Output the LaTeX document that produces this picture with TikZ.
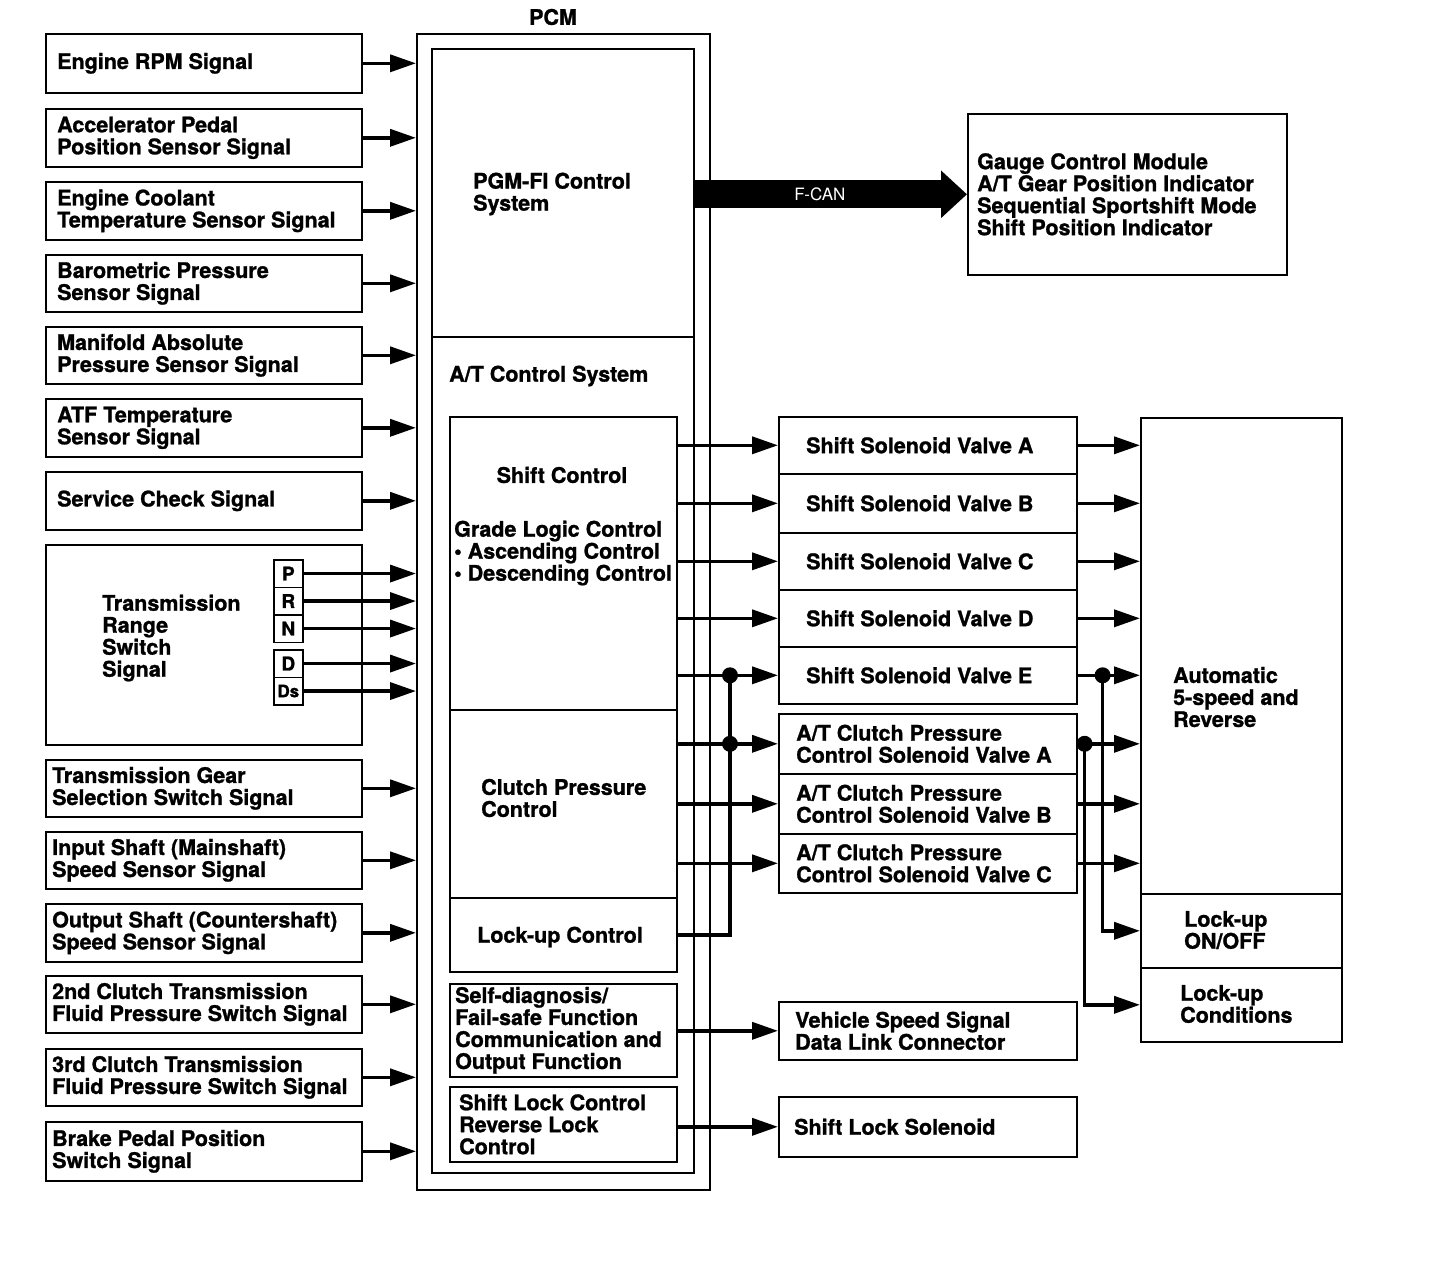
\documentclass[tikz,border=0pt]{standalone}
\usepackage{fontspec}
\setmainfont{TeX Gyre Heros}[BoldFeatures={FakeBold=1.2}]
\usetikzlibrary{arrows.meta}
\begin{document}
\begin{tikzpicture}[x=1pt,y=-1pt,
  font=\fontsize{21.5}{22}\selectfont\bfseries,
  bx/.style={draw, line width=1.6pt, anchor=north west, inner sep=0pt},
  lbx/.style={bx, minimum width=316pt},
  sbx/.style={bx, minimum width=298pt},
  txt/.style={anchor=west, align=left, inner sep=0pt},
  pbox/.style={draw, line width=1.6pt, anchor=north west, minimum width=29pt, minimum height=27.5pt, inner sep=0pt, font=\fontsize{19}{19}\selectfont\bfseries},
  sig/.style={line width=3.6pt, -{Triangle[length=26pt,width=17pt]}},
  wire/.style={line width=3.6pt}]
\useasboundingbox (0,0) rectangle (1456,1262);

% ---------- left input boxes ----------
\node[lbx, minimum height=59pt] (rpm) at (45,33) {};
\node[txt] (rpmt) at ([xshift=12pt]rpm.west) {Engine RPM Signal};
\node[lbx, minimum height=58pt] (app) at (45,108) {};
\node[txt] (appt) at ([xshift=12pt]app.west) {Accelerator Pedal\\Position Sensor Signal};
\node[lbx, minimum height=58pt] (ect) at (45,181) {};
\node[txt] (ectt) at ([xshift=12pt]ect.west) {Engine Coolant\\Temperature Sensor Signal};
\node[lbx, minimum height=57pt] (baro) at (45,254) {};
\node[txt] (barot) at ([xshift=12pt]baro.west) {Barometric Pressure\\Sensor Signal};
\node[lbx, minimum height=57pt] (map) at (45,326) {};
\node[txt] (mapt) at ([xshift=12pt]map.west) {Manifold Absolute\\Pressure Sensor Signal};
\node[lbx, minimum height=58pt] (atf) at (45,398) {};
\node[txt] (atft) at ([xshift=12pt]atf.west) {ATF Temperature\\Sensor Signal};
\node[lbx, minimum height=58pt] (svc) at (45,471) {};
\node[txt] (svct) at ([xshift=12pt]svc.west) {Service Check Signal};
\node[lbx, minimum height=200pt] (trs) at (45,544) {};
\node[txt] (trst) at (102,638) {Transmission\\Range\\Switch\\Signal};
\node[pbox] (P) at (273,559) {P};
\node[pbox] (R) at (273,586.5) {R};
\node[pbox] (N) at (273,614) {N};
\node[pbox] (D) at (273,649) {D};
\node[pbox, font=\fontsize{17}{17}\selectfont\bfseries] (Ds) at (273,676.5) {Ds};
\node[lbx, minimum height=57pt] (tgs) at (45,759) {};
\node[txt] (tgst) at ([xshift=7pt]tgs.west) {Transmission Gear\\Selection Switch Signal};
\node[lbx, minimum height=57pt] (iss) at (45,831) {};
\node[txt] (isst) at ([xshift=7pt]iss.west) {Input Shaft (Mainshaft)\\Speed Sensor Signal};
\node[lbx, minimum height=58pt] (oss) at (45,903) {};
\node[txt] (osst) at ([xshift=7pt]oss.west) {Output Shaft (Countershaft)\\Speed Sensor Signal};
\node[lbx, minimum height=57pt] (ctwo) at (45,975) {};
\node[txt] (ctwot) at ([xshift=7pt]ctwo.west) {2nd Clutch Transmission\\Fluid Pressure Switch Signal};
\node[lbx, minimum height=57pt] (cthree) at (45,1048) {};
\node[txt] (cthreet) at ([xshift=7pt]cthree.west) {3rd Clutch Transmission\\Fluid Pressure Switch Signal};
\node[lbx, minimum height=59pt] (bps) at (45,1121) {};
\node[txt] (bpst) at ([xshift=7pt]bps.west) {Brake Pedal Position\\Switch Signal};

% ---------- PCM ----------
\node[bx, minimum width=293pt, minimum height=1156pt] (pcm) at (416,33) {};
\node (pcmlbl) at (553,17) {PCM};
\node[bx, minimum width=262pt, minimum height=288pt] (pgm) at (431,48) {};
\node[txt] (pgmt) at (473,194) {PGM-FI Control\\System};
\node[bx, minimum width=262pt, minimum height=836pt] (atcs) at (431,336) {};
\node[txt] (atcst) at (449,376) {A/T Control System};
\node[bx, minimum width=227pt, minimum height=293pt] (shiftc) at (449,416) {};
\node (shiftct) at (562,475) {Shift Control};
\node[txt] (gradet) at (454,553) {Grade Logic Control\\\textbullet\ Ascending Control\\\textbullet\ Descending Control};
\node[bx, minimum width=227pt, minimum height=188pt] (clutchc) at (449,709) {};
\node[txt] (clutchct) at (481,798) {Clutch Pressure\\Control};
\node[bx, minimum width=227pt, minimum height=74pt] (lockc) at (449,897) {};
\node (lockct) at (560,937) {Lock-up Control};
\node[bx, minimum width=227pt, minimum height=93pt] (selfd) at (449,983) {};
\node[txt] (selfdt) at ([xshift=6pt]selfd.west) {Self-diagnosis/\\Fail-safe Function\\Communication and\\Output Function};
\node[bx, minimum width=227pt, minimum height=75pt] (shl) at (449,1086) {};
\node[txt] (shlt) at ([xshift=10pt]shl.west) {Shift Lock Control\\Reverse Lock\\Control};

% ---------- gauge ----------
\node[bx, minimum width=319pt, minimum height=161pt] (gauge) at (967,113) {};
\node[txt] (gauget) at ([xshift=10pt]gauge.west) {Gauge Control Module\\A/T Gear Position Indicator\\Sequential Sportshift Mode\\Shift Position Indicator};

% ---------- solenoids ----------
\node[sbx, minimum height=57pt] (ssa) at (778,416) {};
\node[txt] (ssat) at ([xshift=28pt]ssa.west) {Shift Solenoid Valve A};
\node[sbx, minimum height=59pt] (ssb) at (778,473) {};
\node[txt] (ssbt) at ([xshift=28pt]ssb.west) {Shift Solenoid Valve B};
\node[sbx, minimum height=57pt] (ssc) at (778,532) {};
\node[txt] (ssct) at ([xshift=28pt]ssc.west) {Shift Solenoid Valve C};
\node[sbx, minimum height=57pt] (ssd) at (778,589) {};
\node[txt] (ssdt) at ([xshift=28pt]ssd.west) {Shift Solenoid Valve D};
\node[sbx, minimum height=57pt] (sse) at (778,646) {};
\node[txt] (sset) at ([xshift=28pt]sse.west) {Shift Solenoid Valve E};
\node[sbx, minimum height=60pt] (cpa) at (778,713) {};
\node[txt] (cpat) at ([xshift=18pt]cpa.west) {A/T Clutch Pressure\\Control Solenoid Valve A};
\node[sbx, minimum height=60pt] (cpb) at (778,773) {};
\node[txt] (cpbt) at ([xshift=18pt]cpb.west) {A/T Clutch Pressure\\Control Solenoid Valve B};
\node[sbx, minimum height=59pt] (cpc) at (778,833) {};
\node[txt] (cpct) at ([xshift=18pt]cpc.west) {A/T Clutch Pressure\\Control Solenoid Valve C};
\node[sbx, minimum height=58pt] (vss) at (778,1001) {};
\node[txt] (vsst) at ([xshift=17pt]vss.west) {Vehicle Speed Signal\\Data Link Connector};
\node[sbx, minimum height=60pt] (sls) at (778,1096) {};
\node[txt] (slst) at ([xshift=16pt]sls.west) {Shift Lock Solenoid};

% ---------- transmission ----------
\node[bx, minimum width=201pt, minimum height=476pt] (auto) at (1140,417) {};
\node[txt] (autot) at (1173,697) {Automatic\\5-speed and\\Reverse};
\node[bx, minimum width=201pt, minimum height=74pt] (lon) at (1140,893) {};
\node[txt] (lont) at (1184,930) {Lock-up\\ON/OFF};
\node[bx, minimum width=201pt, minimum height=74pt] (lcond) at (1140,967) {};
\node[txt] (lcondt) at (1180,1004) {Lock-up\\Conditions};

% ---------- input arrows ----------
\foreach \n in {rpm,app,ect,baro,map,atf,svc,P,R,N,D,Ds,tgs,iss,oss,ctwo,cthree,bps}
  \draw[sig] (\n.east) -- (\n.east -| pcm.west);

% ---------- F-CAN ----------
\draw[line width=28pt, -{Triangle[length=26pt,width=46pt]}] (pgm.east |- gauge.west) -- (gauge.west)
  node[pos=0.46, text=white, font=\fontsize{17}{17}\selectfont] (fcan) {F-CAN};

% ---------- outputs ----------
\foreach \n in {ssa,ssb,ssc,ssd,sse}
  \draw[sig] (shiftc.east |- \n.west) -- (\n.west);
\foreach \n in {cpa,cpb,cpc}
  \draw[sig] (clutchc.east |- \n.west) -- (\n.west);
\draw[sig] (selfd.east |- vss.west) -- (vss.west);
\draw[sig] (shl.east |- sls.west) -- (sls.west);

\coordinate (jlone) at ([xshift=-48pt]sse.west);
\coordinate (jltwo) at ([xshift=-48pt]cpa.west);
\draw[wire] (lockc.east) -| (jlone);
\fill (jlone) circle (8pt);
\fill (jltwo) circle (8pt);

\foreach \n in {ssa,ssb,ssc,ssd,sse,cpa,cpb,cpc}
  \draw[sig] (\n.east) -- (\n.east -| auto.west);

\coordinate (jre) at ([xshift=25pt]sse.east);
\coordinate (jra) at ([xshift=7pt]cpa.east);
\draw[sig] (jre) |- (lon.west);
\draw[sig] (jra) |- (lcond.west);
\fill (jre) circle (8pt);
\fill (jra) circle (8pt);
\end{tikzpicture}
\end{document}
